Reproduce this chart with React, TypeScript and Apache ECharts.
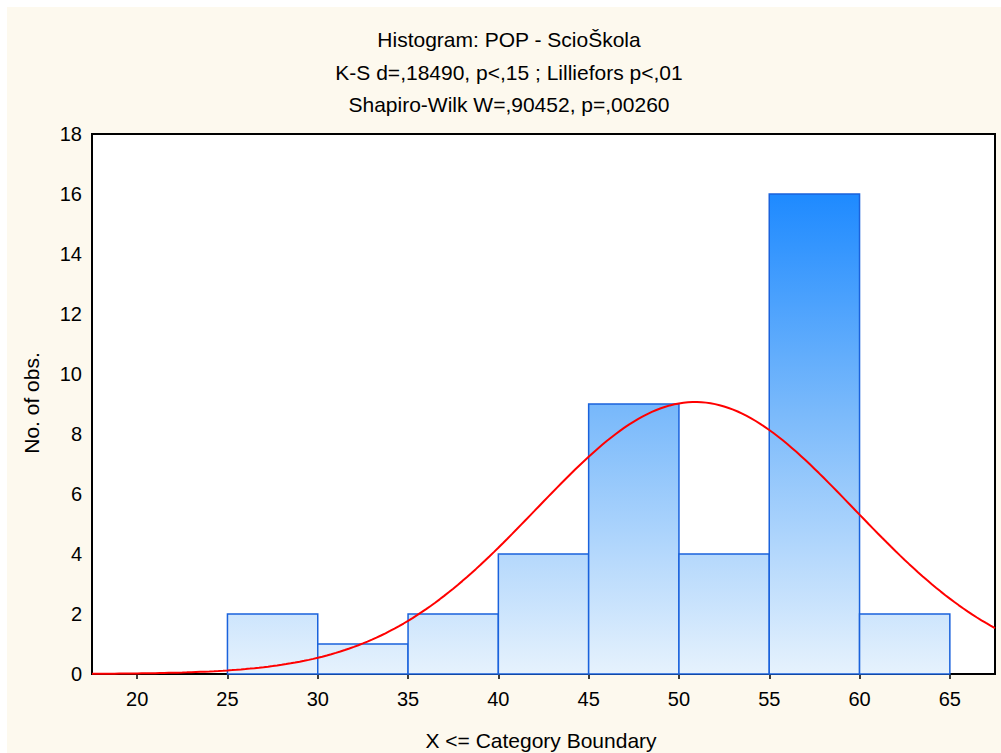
import React, { useEffect, useRef } from "react";
import * as echarts from "echarts";

// Histogram bins (lower bound, upper bound) and observed counts
const binStarts = [25, 30, 35, 40, 45, 50, 55, 60];
const binEnds = [30, 35, 40, 45, 50, 55, 60, 65];
const counts = [2, 1, 2, 4, 9, 4, 16, 2];

// Fitted normal curve parameters
const N_OBS = 40;
const BIN_WIDTH = 5;
const MEAN = 50.9;
const SD = 8.8;

const xTicks = [20, 25, 30, 35, 40, 45, 50, 55, 60, 65];
const X_MIN = 17.5;
const X_MAX = 67.5;

const titleLines = [
  "Histogram: POP - ScioŠkola",
  "K-S d=,18490, p<,15 ; Lilliefors p<,01",
  "Shapiro-Wilk W=,90452, p=,00260",
];
const xName = "X <= Category Boundary";
const yName = "No. of obs.";

const FONT = "'Liberation Sans', Arial, sans-serif";

function normalCurve(): number[][] {
  const pts: number[][] = [];
  const scale = (N_OBS * BIN_WIDTH) / (SD * Math.sqrt(2 * Math.PI));
  for (let i = 0; i <= 200; i++) {
    const x = X_MIN + ((X_MAX - X_MIN) * i) / 200;
    const z = (x - MEAN) / SD;
    pts.push([x, scale * Math.exp(-0.5 * z * z)]);
  }
  return pts;
}

export default function App() {
  const ref = useRef<HTMLDivElement>(null);

  useEffect(() => {
    document.body.style.margin = "0";
    if (!ref.current) return;
    const chart = echarts.init(ref.current, undefined, { renderer: "svg" });

    const barData = binStarts.map((s, i) => [s, binEnds[i], counts[i]]);
    const maxCount = Math.max(...counts);

    const tickCommon = { show: true, inside: true, length: 5, lineStyle: { color: "#000", width: 1.5 } };

    chart.setOption({
      animation: false,
      backgroundColor: "#ffffff",
      graphic: [
        {
          type: "rect",
          z: -100,
          silent: true,
          shape: { x: 7, y: 7, width: 1001, height: 753 },
          style: { fill: "#fdf9ee" },
        },
        ...titleLines.map((t, i) => ({
          type: "text",
          x: 509,
          y: [39, 72, 104][i],
          style: {
            text: t,
            fill: "#000",
            font: `21px ${FONT}`,
            textAlign: "center",
            textVerticalAlign: "middle",
          },
        })),
        {
          type: "text",
          x: 541,
          y: 740,
          style: { text: xName, fill: "#000", font: `21px ${FONT}`, textAlign: "center", textVerticalAlign: "middle" },
        },
        {
          type: "text",
          x: 31,
          y: 403,
          rotation: Math.PI / 2,
          style: { text: yName, fill: "#000", font: `21px ${FONT}`, textAlign: "center", textVerticalAlign: "middle" },
        },
      ],
      grid: {
        left: 92,
        top: 134,
        right: 6,
        bottom: 79,
        show: true,
        backgroundColor: "#ffffff",
        borderColor: "#000",
        borderWidth: 2,
        z: 1,
      },
      xAxis: [
        {
          type: "value",
          min: X_MIN,
          max: X_MAX,
          axisLine: { show: false },
          axisTick: { ...tickCommon, customValues: xTicks },
          axisLabel: { customValues: xTicks, color: "#000", fontSize: 20, fontFamily: FONT, margin: 15 },
          splitLine: { show: false },
        },
        {
          type: "value",
          position: "top",
          min: X_MIN,
          max: X_MAX,
          axisLine: { show: false },
          axisTick: { ...tickCommon, customValues: xTicks },
          axisLabel: { show: false, customValues: xTicks },
          splitLine: { show: false },
        },
      ],
      yAxis: [
        {
          type: "value",
          min: 0,
          max: 18,
          interval: 2,
          axisLine: { show: false },
          axisTick: tickCommon,
          axisLabel: { color: "#000", fontSize: 20, fontFamily: FONT, margin: 10 },
          splitLine: { show: true, lineStyle: { color: "#d9d9d9", width: 2 } },
        },
        {
          type: "value",
          position: "right",
          min: 0,
          max: 18,
          interval: 2,
          axisLine: { show: false },
          axisTick: tickCommon,
          axisLabel: { show: false },
          splitLine: { show: false },
        },
      ],
      series: [
        {
          type: "custom",
          z: 3,
          data: barData,
          encode: { x: [0, 1], y: 2 },
          renderItem: (params: any, api: any) => {
            const p0 = api.coord([api.value(0), 0]);
            const p1 = api.coord([api.value(1), api.value(2)]);
            const gTop = api.coord([0, maxCount])[1];
            const gBot = api.coord([0, 0])[1];
            return {
              type: "rect",
              shape: { x: p0[0], y: p1[1], width: p1[0] - p0[0], height: p0[1] - p1[1] },
              style: {
                fill: new echarts.graphic.LinearGradient(
                  0,
                  gTop,
                  0,
                  gBot,
                  [
                    { offset: 0, color: "#1e8aff" },
                    { offset: 0.45, color: "#79b9fb" },
                    { offset: 1, color: "#e6f2fd" },
                  ],
                  true
                ),
                stroke: "#1a62dc",
                lineWidth: 1.5,
              },
            };
          },
        },
        {
          type: "line",
          z: 5,
          data: normalCurve(),
          showSymbol: false,
          symbol: "none",
          lineStyle: { color: "#ff0000", width: 2 },
        },
      ],
    });

    return () => chart.dispose();
  }, []);

  return <div ref={ref} style={{ width: 1001, height: 753 }} />;
}
